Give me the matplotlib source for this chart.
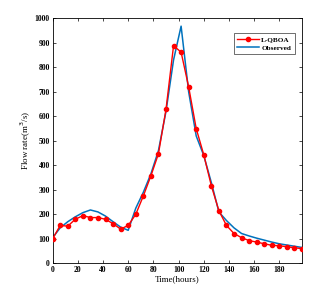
import matplotlib
matplotlib.use("Agg")
import matplotlib.pyplot as plt

hours = list(range(0, 199, 6))
lqboa = [100, 155, 152, 180, 195, 187, 187, 180, 162, 140, 155, 200, 275, 357, 447,
         628, 888, 862, 720, 550, 443, 317, 215, 155, 122, 105, 93, 87, 80, 74, 72,
         68, 64, 60]
observed = [105, 145, 170, 190, 207, 218, 210, 193, 170, 148, 135, 225, 290, 365, 460,
            620, 830, 968, 700, 520, 440, 330, 210, 175, 145, 122, 112, 103, 95, 87, 80,
            75, 70, 65]
xticks = [0, 20, 40, 60, 80, 100, 120, 140, 160, 180]
yticks = [0, 100, 200, 300, 400, 500, 600, 700, 800, 900, 1000]

plt.rcParams['font.family'] = ['Liberation Serif', 'DejaVu Serif']
fig = plt.figure(figsize=(3.33, 2.93), dpi=100)
ax = fig.add_axes([0.158, 0.101, 0.749, 0.8365])
ax.plot(hours, lqboa, color='#ff0000', marker='o', markersize=3.0, linewidth=1.0,
        label='L-QBOA', zorder=3)
ax.plot(hours, observed, color='#0072bd', linewidth=1.1, label='Observed', zorder=2)
ax.set_xlim(0, 198)
ax.set_ylim(0, 1000)
ax.set_xticks(xticks)
ax.set_yticks(yticks)
ax.tick_params(direction='in', top=True, right=True, labelsize=5.5, length=2.5,
               width=0.5, pad=2)
for lbl in ax.get_xticklabels() + ax.get_yticklabels():
    lbl.set_fontweight('bold')
for s in ax.spines.values():
    s.set_linewidth(0.6)
ax.set_xlabel('Time(hours)', fontsize=6.5, labelpad=1)
ax.set_ylabel('Flow rate(m$^3$/s)', fontsize=6.5, labelpad=1)
leg = ax.legend(loc='upper right', fontsize=5.2, frameon=True, fancybox=False,
                edgecolor='black', handlelength=3.0, borderpad=0.5, labelspacing=0.3,
                handletextpad=0.3, bbox_to_anchor=(0.985, 0.955))
leg.get_frame().set_linewidth(0.5)
for t in leg.get_texts():
    t.set_fontweight('bold')
fig.savefig('out.png', dpi=100)
